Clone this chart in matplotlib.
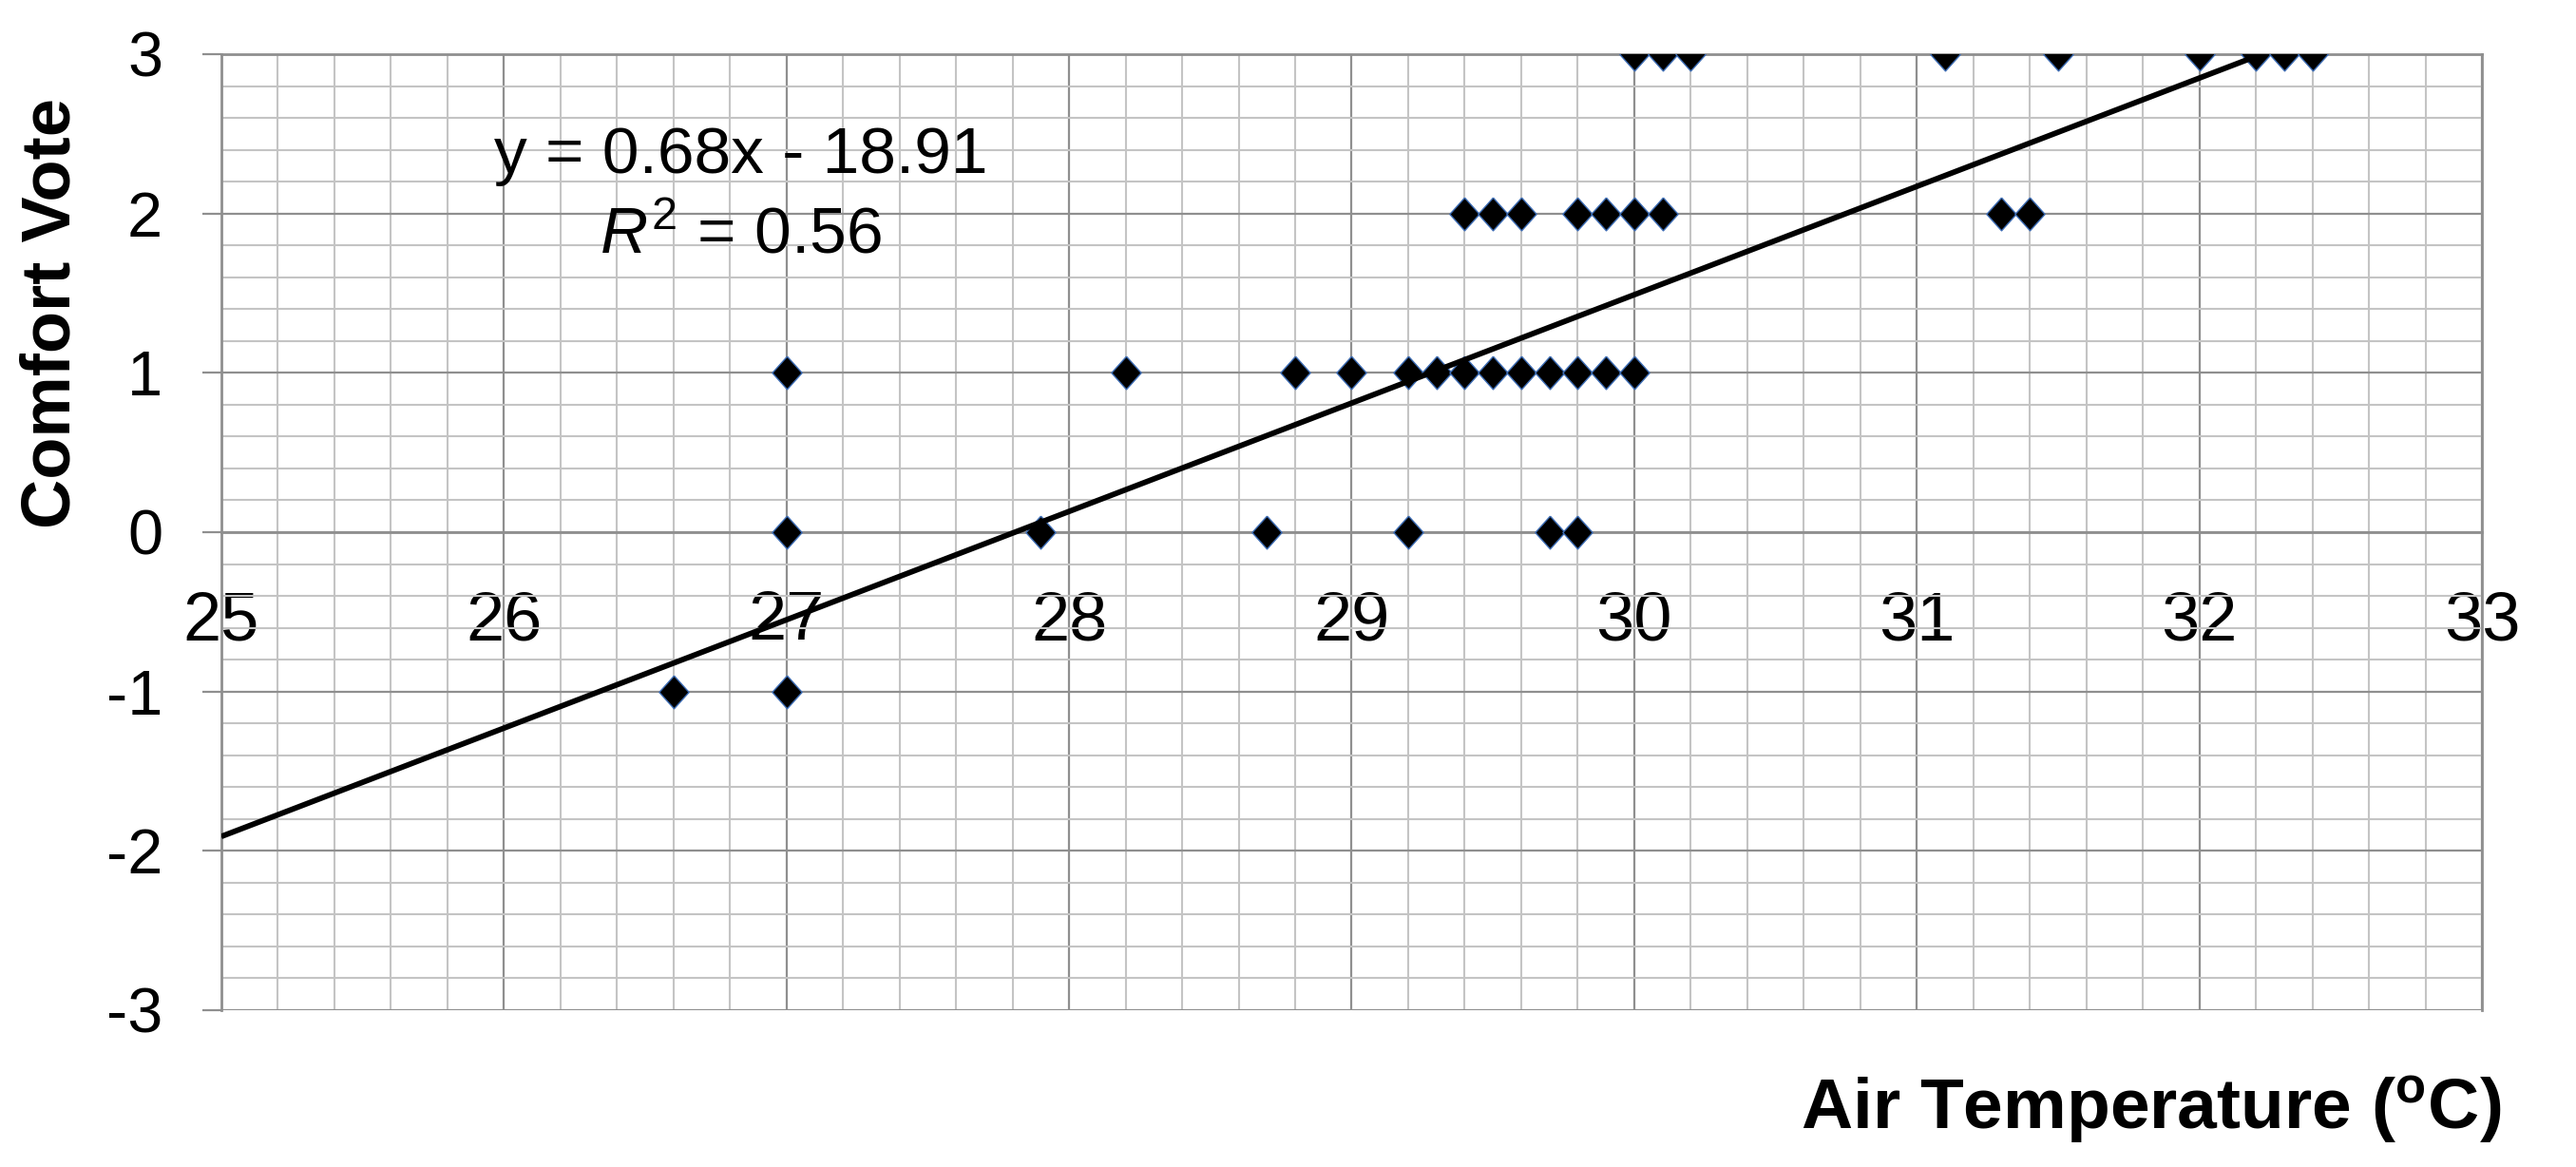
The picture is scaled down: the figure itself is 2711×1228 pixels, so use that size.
import matplotlib
matplotlib.use("Agg")
import matplotlib.pyplot as plt
from matplotlib.ticker import MultipleLocator
import numpy as np

plt.rcParams["font.family"] = ["Liberation Sans", "DejaVu Sans"]
plt.rcParams["axes.unicode_minus"] = False
plt.rcParams["mathtext.fontset"] = "custom"
plt.rcParams["mathtext.rm"] = "Liberation Sans"
plt.rcParams["mathtext.it"] = "Liberation Sans:italic"
plt.rcParams["mathtext.bf"] = "Liberation Sans:bold"

# survey points: air temperature (C) and comfort vote
air_temp = [26.6, 27.0,
            27.0, 27.9, 28.7, 29.2, 29.7, 29.8,
            27.0, 28.2, 28.8, 29.0, 29.2, 29.3, 29.4, 29.5, 29.6, 29.7, 29.8, 29.9, 30.0,
            29.4, 29.5, 29.6, 29.8, 29.9, 30.0, 30.1, 31.3, 31.4,
            30.0, 30.1, 30.2, 31.1, 31.5, 32.0, 32.2, 32.3, 32.4]
comfort_vote = [-1, -1,
                0, 0, 0, 0, 0, 0,
                1, 1, 1, 1, 1, 1, 1, 1, 1, 1, 1, 1, 1,
                2, 2, 2, 2, 2, 2, 2, 2, 2,
                3, 3, 3, 3, 3, 3, 3, 3, 3]

# linear trendline as printed on the chart
slope = 0.68
intercept = -18.91
r_squared = 0.56
trend_x = np.array([25.0, 32.4])

x_ticks = [25, 26, 27, 28, 29, 30, 31, 32, 33]
y_ticks = [-3, -2, -1, 0, 1, 2, 3]

# slightly tall diamond, like the Excel marker
diamond = [(0, 1), (0.9, 0), (0, -1), (-0.9, 0), (0, 1)]

fig = plt.figure(figsize=(27.11, 12.28), dpi=100)
ax = fig.add_axes([0.0859, 0.1344, 0.8776, 0.8192])

ax.plot(air_temp, comfort_vote, linestyle="none", marker=diamond,
        markersize=25, markerfacecolor="black", markeredgecolor="#3d6db5",
        markeredgewidth=1.0, zorder=3)
ax.plot(trend_x, slope * trend_x + intercept, color="black", linewidth=4.2,
        solid_capstyle="butt", zorder=4)

ax.set_xlim(25, 33)
ax.set_ylim(-3, 3)
ax.set_xticks(x_ticks)
ax.set_yticks(y_ticks)
ax.xaxis.set_minor_locator(MultipleLocator(0.2))
ax.yaxis.set_minor_locator(MultipleLocator(0.2))

ax.set_axisbelow(True)
ax.grid(which="minor", color="#c4c4c4", linewidth=1.5)
ax.grid(which="major", color="#8f8f8f", linewidth=1.6)

# horizontal axis crosses at zero
ax.spines["bottom"].set_position(("data", 0))
for side in ["left", "right", "top", "bottom"]:
    ax.spines[side].set_color("#8f8f8f")
    ax.spines[side].set_linewidth(2.0)

ax.tick_params(axis="x", which="both", length=0, pad=44, labelsize=52)
ax.tick_params(axis="y", which="major", direction="out", length=14.5, width=1.6,
               color="#8f8f8f", pad=30, labelsize=48)
ax.tick_params(axis="y", which="minor", length=0)

ax.text(0.2299, 0.8757, "y = 0.68x - 18.91", transform=ax.transAxes,
        ha="center", va="baseline", fontsize=50)
ax.text(0.2299, 0.7913, r"$R^{2}$ = %.2f" % r_squared, transform=ax.transAxes,
        ha="center", va="baseline", fontsize=50)

fig.text(55 / 2711, 1 - 329 / 1228, "Comfort Vote", rotation=90,
         ha="center", va="center", fontsize=52, fontweight="bold")
fig.text(2632 / 2711, 1 - 1188 / 1228, r"Air Temperature ($\mathbf{^{o}}$C)",
         ha="right", va="baseline", fontsize=54, fontweight="bold")

fig.savefig("out.png", dpi=100)
